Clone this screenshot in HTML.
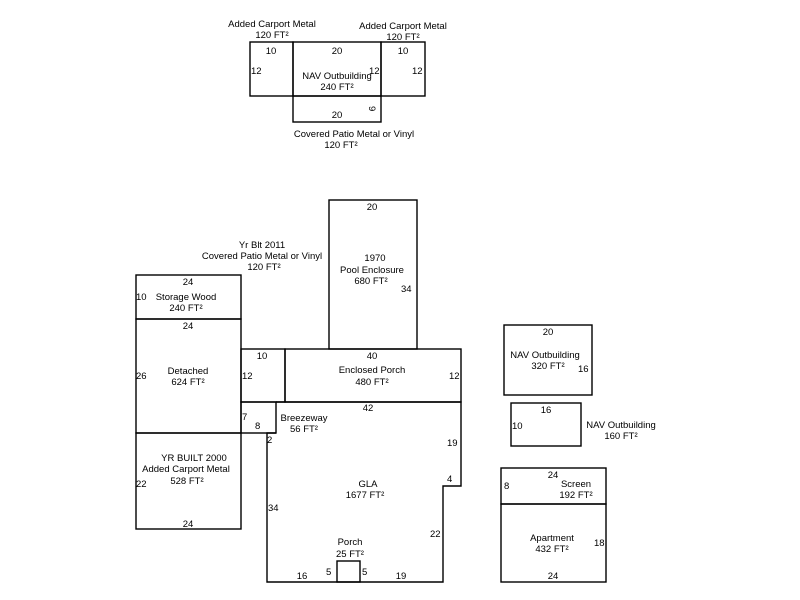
<!DOCTYPE html>
<html><head><style>body{margin:0;background:#fff}svg{display:block}text{font-family:"Liberation Sans",Arial,sans-serif;font-size:9.5px;fill:#000}</style></head><body>
<svg width="800" height="600" viewBox="0 0 800 600">
<g fill="none" stroke="#000" stroke-width="1.4">
<rect x="250" y="42" width="43" height="54"/><rect x="293" y="42" width="88" height="54"/><rect x="381" y="42" width="44" height="54"/><rect x="293" y="96" width="88" height="26"/>
<rect x="329" y="200" width="88" height="149"/>
<rect x="136" y="275" width="105" height="44"/><rect x="136" y="319" width="105" height="114"/><rect x="136" y="433" width="105" height="96"/>
<rect x="241" y="349" width="44" height="53"/><rect x="285" y="349" width="176" height="53"/>
<rect x="241" y="402" width="35" height="31"/>
<polyline points="276,402 461,402 461,486 443,486 443,582 267,582 267,433 276,433"/>
<rect x="337" y="561" width="23" height="21"/>
<rect x="504" y="325" width="88" height="70"/><rect x="511" y="403" width="70" height="43"/>
<rect x="501" y="468" width="105" height="36"/><rect x="501" y="504" width="105" height="78"/>
</g>
<g text-anchor="middle">
<text x="272" y="27">Added Carport Metal</text><text x="272" y="38">120 FT²</text>
<text x="403" y="29">Added Carport Metal</text><text x="403" y="40">120 FT²</text>
<text x="271" y="54">10</text><text x="337" y="54">20</text><text x="403" y="54">10</text>
<text x="337" y="79">NAV Outbuilding</text><text x="337" y="90">240 FT²</text>
<text x="337" y="118">20</text>
<text x="354" y="137">Covered Patio Metal or Vinyl</text><text x="341" y="148">120 FT²</text>
<text x="372" y="210">20</text>
<text x="375" y="261">1970</text><text x="372" y="273">Pool Enclosure</text><text x="371" y="284">680 FT²</text>
<text x="262" y="248">Yr Blt 2011</text><text x="262" y="259">Covered Patio Metal or Vinyl</text><text x="264" y="270">120 FT²</text>
<text x="188" y="285">24</text><text x="186" y="300">Storage Wood</text><text x="186" y="311">240 FT²</text>
<text x="188" y="329">24</text><text x="188" y="374">Detached</text><text x="188" y="385">624 FT²</text>
<text x="262" y="359">10</text><text x="372" y="359">40</text>
<text x="372" y="373">Enclosed Porch</text><text x="372" y="385">480 FT²</text>
<text x="368" y="411">42</text>
<text x="304" y="421">Breezeway</text><text x="304" y="432">56 FT²</text>
<text x="194" y="461">YR BUILT 2000</text><text x="186" y="472">Added Carport Metal</text><text x="187" y="484">528 FT²</text>
<text x="188" y="527">24</text>
<text x="368" y="487">GLA</text><text x="365" y="498">1677 FT²</text>
<text x="350" y="545">Porch</text><text x="350" y="557">25 FT²</text>
<text x="302" y="579">16</text><text x="401" y="579">19</text>
<text x="548" y="335">20</text><text x="545" y="358">NAV Outbuilding</text><text x="548" y="369">320 FT²</text>
<text x="546" y="413">16</text><text x="621" y="428">NAV Outbuilding</text><text x="621" y="439">160 FT²</text>
<text x="553" y="478">24</text><text x="576" y="487">Screen</text><text x="576" y="498">192 FT²</text>
<text x="552" y="541">Apartment</text><text x="552" y="552">432 FT²</text><text x="553" y="579">24</text>
</g>
<g>
<text x="251" y="74">12</text><text x="369" y="74">12</text><text x="412" y="74">12</text>
<text x="401" y="292">34</text><text x="136" y="300">10</text><text x="136" y="379">26</text>
<text x="242" y="379">12</text><text x="449" y="379">12</text>
<text x="242" y="420">7</text><text x="255" y="429">8</text><text x="267" y="443">2</text>
<text x="447" y="446">19</text><text x="447" y="482">4</text><text x="430" y="537">22</text>
<text x="268" y="511">34</text><text x="136" y="487">22</text>
<text x="326" y="575">5</text><text x="362" y="575">5</text>
<text x="578" y="372">16</text><text x="512" y="429">10</text><text x="504" y="489">8</text><text x="594" y="546">18</text>
<text transform="translate(369,106) rotate(90)" x="0" y="0">9</text>
</g>
</svg>
</body></html>
